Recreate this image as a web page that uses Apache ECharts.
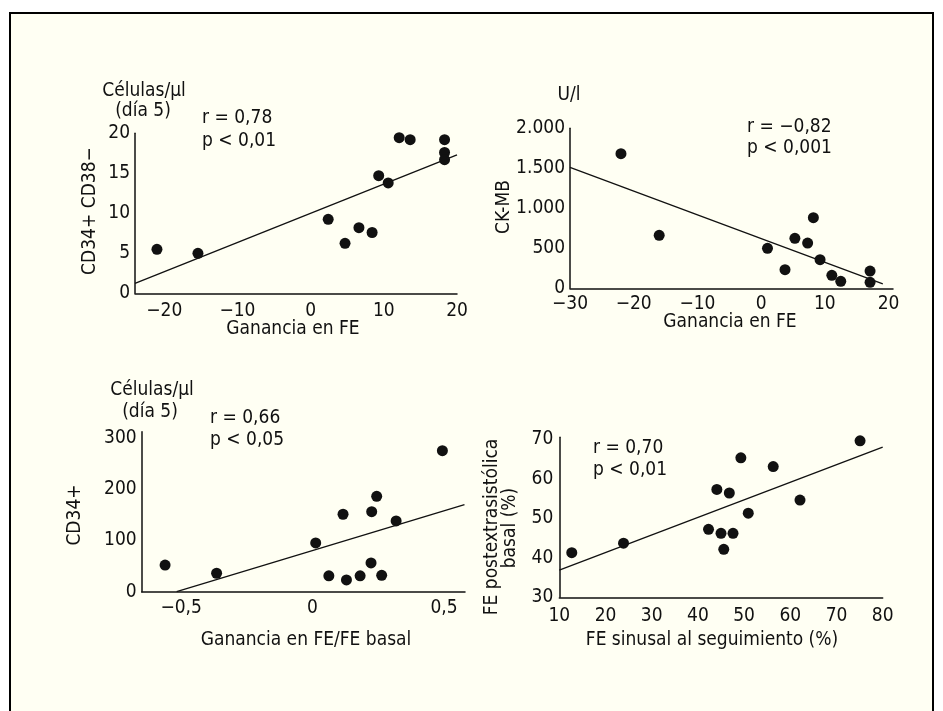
<!DOCTYPE html>
<html>
<head>
<meta charset="utf-8">
<script src="https://cdn.jsdelivr.net/npm/echarts@6/dist/echarts.min.js"></script>
<style>
html,body{margin:0;padding:0;background:#ffffff;}
#c{width:943px;height:711px;}
</style>
</head>
<body>
<div id="c"></div>
<script>
// ---- Data ----
// Panel 1: CD34+ CD38- vs Ganancia en FE
const p1x = [-21.0, -15.4, 2.4, 4.7, 6.6, 8.4, 9.3, 10.6, 12.1, 13.6, 18.3, 18.3, 18.3];
const p1y = [5.5, 5.0, 9.25, 6.25, 8.2, 7.6, 14.7, 13.8, 19.45, 19.2, 19.2, 17.6, 16.7];
const fit1 = [[-24, 1.25], [20, 17.3]];
const p1xTicks = [-20, -10, 0, 10, 20];
const p1yTicks = [0, 5, 10, 15, 20];

// Panel 2: CK-MB vs Ganancia en FE
const p2x = [-22.0, -16.0, 1.0, 3.75, 5.3, 7.3, 8.2, 9.25, 11.1, 12.5, 17.1, 17.1];
const p2y = [1683, 662, 500, 233, 625, 566, 883, 358, 162, 87, 216, 75];
const fit2 = [[-30, 1512], [19.1, 54]];
const p2xTicks = [-30, -20, -10, 0, 10, 20];
const p2yTicks = [0, 500, 1000, 1500, 2000];

// Panel 3: CD34+ vs Ganancia en FE/FE basal
const p3x = [-0.561, -0.365, 0.012, 0.062, 0.116, 0.129, 0.181, 0.2225, 0.225, 0.244, 0.263, 0.318, 0.494];
const p3y = [52, 36, 95, 31, 151, 23, 31, 56, 156, 186, 32, 138, 275];
const fit3 = [[-0.517, 0], [0.578, 170]];
const p3xTicks = [-0.5, 0, 0.5];
const p3yTicks = [0, 100, 200, 300];

// Panel 4: FE postextrasistólica basal vs FE sinusal al seguimiento
const p4x = [12.7, 23.9, 42.3, 44.1, 45.0, 45.6, 46.8, 47.6, 49.3, 50.9, 56.3, 62.1, 75.1];
const p4y = [41.3, 43.7, 47.2, 57.3, 46.2, 42.15, 56.4, 46.2, 65.3, 51.3, 63.1, 54.6, 69.6];
const fit4 = [[10, 36.9], [80, 68.0]];
const p4xTicks = [10, 20, 30, 40, 50, 60, 70, 80];
const p4yTicks = [30, 40, 50, 60, 70];

// ---- Styling ----
const FONT = "'Liberation Sans Narrow','Arial Narrow','DejaVu Sans Condensed',sans-serif";
const FS = 19;
const INK = '#111111';
const CREAM = '#fffff3';

function fmt(v) {
  const neg = v < 0;
  let a = Math.abs(v);
  let s;
  if (a >= 1000) {
    s = String(a).replace(/\B(?=(\d{3})+(?!\d))/g, '.');
  } else {
    s = String(a).replace('.', ',');
  }
  return (neg ? '\u2212' : '') + s;
}

function xAxis(gi, min, max, ticks, margin) {
  return {
    type: 'value', gridIndex: gi, min: min, max: max,
    axisLine: {show: true, onZero: false, lineStyle: {color: INK, width: 1.5}},
    axisTick: {show: false},
    splitLine: {show: false},
    axisLabel: {customValues: ticks, formatter: fmt, color: INK, fontFamily: FONT, fontSize: FS, margin: margin}
  };
}
function yAxis(gi, min, max, ticks, margin) {
  return {
    type: 'value', gridIndex: gi, min: min, max: max,
    axisLine: {show: true, onZero: false, lineStyle: {color: INK, width: 1.5}},
    axisTick: {show: false},
    splitLine: {show: false},
    axisLabel: {customValues: ticks, formatter: fmt, color: INK, fontFamily: FONT, fontSize: FS, margin: margin}
  };
}
function zip(xs, ys) { return xs.map((x, i) => [x, ys[i]]); }
function scatter(i, xs, ys) {
  return {type: 'scatter', xAxisIndex: i, yAxisIndex: i, data: zip(xs, ys),
    symbol: 'circle', symbolSize: 11, itemStyle: {color: INK, opacity: 1}, z: 3, silent: true};
}
function fitLine(i, d) {
  return {type: 'line', xAxisIndex: i, yAxisIndex: i, data: d, symbol: 'none',
    lineStyle: {color: INK, width: 1.3}, z: 2, silent: true};
}
function txt(s, x, y, align, rot) {
  return {type: 'text', x: x, y: y, rotation: rot || 0, z: 10,
    style: {text: s, fill: INK, font: FS + 'px ' + FONT, align: align || 'center', verticalAlign: 'middle'}};
}

const chart = echarts.init(document.getElementById('c'), null, {renderer: 'canvas'});
const R = Math.PI / 2;
chart.setOption({
  backgroundColor: '#ffffff',
  animation: false,
  grid: [
    {left: 135, top: 133.3, width: 322, height: 160},
    {left: 570, top: 128.3, width: 323, height: 160},
    {left: 141.7, top: 431.7, width: 323.3, height: 160},
    {left: 559.3, top: 437.3, width: 323.4, height: 160}
  ],
  xAxis: [
    xAxis(0, -24, 20, p1xTicks, 8),
    xAxis(1, -30, 20.7, p2xTicks, 6),
    xAxis(2, -0.65, 0.58, p3xTicks, 7),
    xAxis(3, 10, 80, p4xTicks, 9)
  ],
  yAxis: [
    yAxis(0, 0, 20, p1yTicks, 5),
    yAxis(1, 0, 2000, p2yTicks, 5),
    yAxis(2, 0, 312, p3yTicks, 5),
    yAxis(3, 30, 70.5, p4yTicks, 6)
  ],
  graphic: [
    {type: 'rect', z: -10, shape: {x: 10, y: 13, width: 923, height: 740},
      style: {fill: CREAM, stroke: '#000', lineWidth: 2}},
    // Panel 1
    txt('Células/\u00b5l', 144, 91),
    txt('(día 5)', 143, 111),
    txt('r = 0,78', 202, 118, 'left'),
    txt('p < 0,01', 202, 141.5, 'left'),
    txt('CD34+ CD38\u2212', 90, 211, 'center', R),
    txt('Ganancia en FE', 293, 329),
    // Panel 2
    txt('U/l', 569, 95),
    txt('CK-MB', 504, 207, 'center', R),
    txt('r = \u22120,82', 747, 127.5, 'left'),
    txt('p < 0,001', 747, 148, 'left'),
    txt('Ganancia en FE', 730, 322),
    // Panel 3
    txt('Células/\u00b5l', 152, 390),
    txt('(día 5)', 150, 412),
    txt('r = 0,66', 210, 418, 'left'),
    txt('p < 0,05', 210, 440, 'left'),
    txt('CD34+', 75, 515, 'center', R),
    txt('Ganancia en FE/FE basal', 306, 640),
    // Panel 4
    txt('r = 0,70', 593, 448.5, 'left'),
    txt('p < 0,01', 593, 470, 'left'),
    txt('FE postextrasistólica', 492, 527, 'center', R),
    txt('basal (%)', 510, 528, 'center', R),
    txt('FE sinusal al seguimiento (%)', 712, 640)
  ],
  series: [
    fitLine(0, fit1), scatter(0, p1x, p1y),
    fitLine(1, fit2), scatter(1, p2x, p2y),
    fitLine(2, fit3), scatter(2, p3x, p3y),
    fitLine(3, fit4), scatter(3, p4x, p4y)
  ]
});
</script>
</body>
</html>
